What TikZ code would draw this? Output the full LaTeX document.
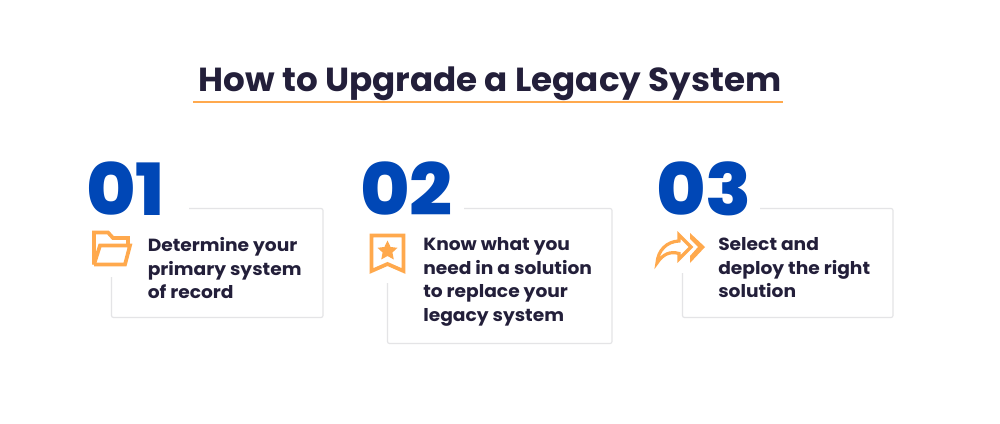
\documentclass[tikz,border=0pt]{standalone}
\usepackage{fontspec}
\setmainfont{Poppins}
\newfontfamily\headfont[FakeStretch=1.025]{Poppins Bold}
\newfontfamily\numfont[FakeStretch=1.05]{Poppins ExtraBold}
\newfontfamily\bodyfont[FakeStretch=1.06]{Poppins Bold}
\definecolor{ink}{HTML}{231F3A}
\definecolor{numblue}{HTML}{0047B6}
\definecolor{accent}{HTML}{FFA94D}
\definecolor{edge}{HTML}{E4E4E6}
\tikzset{
  px/.style={x=0.75pt,y=-0.75pt},
  cardline/.style={draw=edge,line width=0.9pt,rounded corners=1.5pt},
  stepnum/.style={anchor=base west,inner sep=0pt,text=numblue,font=\numfont\fontsize{54}{54}\selectfont},
  steptext/.style={anchor=north west,inner sep=0pt,align=left,text=ink,font=\bodyfont\fontsize{13.2}{17.6}\selectfont},
  icon/.style={draw=accent,line width=2.8pt,line join=miter}
}
\begin{document}
\begin{tikzpicture}[px]
  \useasboundingbox (0,0) rectangle (1000,424);
  \fill[white] (0,0) rectangle (1000,424);

  % heading and rule
  \node[anchor=base,inner sep=0pt,text=ink,font=\headfont\fontsize{25}{25}\selectfont] (title) at (490,92) {How to Upgrade a Legacy System};
  \coordinate (ruleL) at (193,102);
  \coordinate (ruleR) at (783,102);
  \draw[accent,line width=1.4pt] (ruleL) -- (ruleR);

  % card outlines, open where the numeral and icon overlap them
  \draw[cardline] (189,208.5) -- (323,208.5) -- (323,317.5) -- (111.5,317.5) -- (111.5,277);
  \draw[cardline] (464,208.5) -- (612,208.5) -- (612,343.5) -- (387.5,343.5) -- (387.5,283);
  \draw[cardline] (760,208.5) -- (893,208.5) -- (893,317.5) -- (682.5,317.5) -- (682.5,273);

  % numerals
  \node[stepnum] (n1) at (86,215) {01};
  \node[stepnum] (n2) at (360,215) {02};
  \node[stepnum] (n3) at (656,215) {03};

  % step texts
  \node[steptext] (t1) at (147.5,237.5) {Determine your\\primary system\\of record};
  \node[steptext] (t2) at (423,237.5) {Know what you\\need in a solution\\to replace your\\legacy system};
  \node[steptext] (t3) at (718,237.5) {Select and\\deploy the right\\solution};

  % folder icon
  \draw[icon] (94,264.5) -- (94,232.5) -- (108,232.5) -- (113,238) -- (128,238) -- (128,245);
  \draw[icon] (94,264.5) -- (125,264.5) -- (130,245.5) -- (100,245.5) -- (94,264.5);

  % ribbon icon
  \draw[icon] (371.5,235.5) -- (403.5,235.5) -- (403.5,271) -- (387.5,264) -- (371.5,271) -- cycle;
  \fill[accent] (387.5,240.5) -- (390.6,247) -- (397.5,247.8) -- (392.4,252.5) -- (393.8,259.5)
    -- (387.5,256) -- (381.2,259.5) -- (382.6,252.5) -- (377.5,247.8) -- (384.4,247) -- cycle;

  % double arrow icon
  \draw[icon,line width=2.4pt] (679,235) -- (691,247) -- (679,259) -- (679,253.5)
    .. controls (670,251) and (663,254) .. (657,263)
    .. controls (658,250) and (667,241.5) .. (679,241) -- cycle;
  \fill[accent] (690,233) -- (705,247) -- (690,263) -- (690,256) -- (698,247) -- (690,239) -- cycle;
\end{tikzpicture}
\end{document}
